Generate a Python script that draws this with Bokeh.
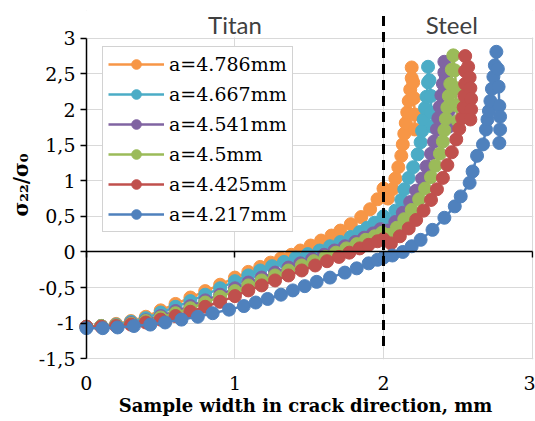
from bokeh.plotting import figure
from bokeh.models import (Range1d, FixedTicker, LinearAxis, CustomJSTickFormatter,
                          Legend, LegendItem, BoxAnnotation, Label)
from bokeh.embed import file_html
from bokeh.resources import INLINE

# ---------------- data ----------------
labels = ["a=4.786mm", "a=4.667mm", "a=4.541mm", "a=4.5mm", "a=4.425mm", "a=4.217mm"]
colors = ["#F79646", "#4BACC6", "#8064A2", "#9BBB59", "#C0504D", "#4F81BD"]

x_4786 = [0, 0.1, 0.2, 0.3, 0.4, 0.5, 0.6, 0.7, 0.8, 0.9, 1.0,
          1.09, 1.17, 1.24, 1.31, 1.38, 1.44, 1.51, 1.58, 1.65, 1.71, 1.78, 1.85, 1.91, 1.96,
          2.0, 2.03, 2.06, 2.08, 2.10, 2.12, 2.13, 2.14, 2.15, 2.16, 2.17, 2.18, 2.19, 2.19,
          2.20, 2.205, 2.21, 2.21]
y_4786 = [-1.05, -1.04, -1.01, -0.97, -0.91, -0.82, -0.73, -0.64, -0.55, -0.46, -0.36,
          -0.28, -0.21, -0.15, -0.09, -0.04, 0.02, 0.09, 0.16, 0.23, 0.30, 0.39, 0.49, 0.60, 0.74,
          0.89, 0.75, 0.88, 1.03, 1.19, 1.35, 1.51, 1.66, 1.81, 1.96, 2.12, 2.28, 2.44, 2.59,
          2.38, 2.16, 1.93, 1.72]

x_4667 = [0, 0.1, 0.2, 0.3, 0.4, 0.5, 0.6, 0.7, 0.8, 0.9, 1.0,
          1.09, 1.17, 1.25, 1.33, 1.41, 1.49, 1.57, 1.64, 1.71, 1.78, 1.84, 1.89, 1.94,
          2.0, 2.04, 2.08, 2.12, 2.14, 2.17, 2.20, 2.23, 2.25, 2.26, 2.27, 2.28, 2.29, 2.30, 2.30,
          2.31, 2.32, 2.32, 2.33]
y_4667 = [-1.05, -1.04, -1.02, -0.98, -0.93, -0.85, -0.77, -0.69, -0.60, -0.51, -0.41,
          -0.33, -0.26, -0.20, -0.14, -0.08, -0.03, 0.02, 0.08, 0.14, 0.21, 0.28, 0.34, 0.41,
          0.50, 0.42, 0.58, 0.73, 0.88, 1.04, 1.19, 1.37, 1.54, 1.70, 1.86, 2.02, 2.18, 2.38, 2.60,
          2.41, 2.19, 1.96, 1.76]

x_4541 = [0, 0.1, 0.2, 0.3, 0.4, 0.5, 0.6, 0.7, 0.8, 0.9, 1.0,
          1.09, 1.18, 1.27, 1.36, 1.44, 1.52, 1.60, 1.67, 1.74, 1.81, 1.87, 1.93, 1.98,
          2.03, 2.08, 2.13, 2.18, 2.22, 2.26, 2.29, 2.32, 2.34, 2.36, 2.37, 2.38, 2.39, 2.40, 2.41, 2.41,
          2.42, 2.43, 2.44, 2.44]
y_4541 = [-1.05, -1.04, -1.03, -1.00, -0.96, -0.90, -0.83, -0.76, -0.68, -0.60, -0.51,
          -0.43, -0.36, -0.29, -0.22, -0.16, -0.10, -0.04, 0.02, 0.08, 0.14, 0.20, 0.26, 0.32,
          0.30, 0.42, 0.55, 0.70, 0.86, 1.03, 1.20, 1.38, 1.55, 1.72, 1.88, 2.04, 2.20, 2.36, 2.52, 2.67,
          2.46, 2.22, 1.98, 1.76]

x_4500 = [0, 0.1, 0.2, 0.3, 0.4, 0.5, 0.6, 0.7, 0.8, 0.9, 1.0,
          1.09, 1.18, 1.27, 1.36, 1.45, 1.53, 1.61, 1.68, 1.75, 1.82, 1.88, 1.94, 1.99,
          2.04, 2.09, 2.14, 2.19, 2.24, 2.28, 2.32, 2.35, 2.38, 2.40, 2.41, 2.42, 2.43, 2.44, 2.45, 2.46, 2.47,
          2.48, 2.49, 2.49, 2.50]
y_4500 = [-1.05, -1.04, -1.03, -1.01, -0.97, -0.92, -0.86, -0.79, -0.71, -0.63, -0.55,
          -0.47, -0.40, -0.33, -0.26, -0.19, -0.13, -0.07, -0.01, 0.05, 0.11, 0.17, 0.22, 0.27,
          0.24, 0.34, 0.46, 0.59, 0.74, 0.89, 1.05, 1.21, 1.38, 1.55, 1.71, 1.87, 2.03, 2.19, 2.36, 2.56, 2.76,
          2.55, 2.30, 2.06, 1.84]

x_4425 = [0, 0.1, 0.2, 0.3, 0.4, 0.5, 0.6, 0.7, 0.8, 0.9, 1.0,
          1.09, 1.18, 1.27, 1.36, 1.45, 1.54, 1.62, 1.70, 1.77, 1.84, 1.90, 1.96, 2.0,
          2.05, 2.11, 2.17, 2.22, 2.27, 2.32, 2.36, 2.40, 2.43, 2.46, 2.49, 2.51, 2.53, 2.54, 2.545, 2.55, 2.55, 2.55,
          2.57, 2.58, 2.585, 2.59, 2.59, 2.585]
y_4425 = [-1.05, -1.05, -1.04, -1.02, -0.99, -0.95, -0.90, -0.84, -0.77, -0.70, -0.62,
          -0.54, -0.47, -0.40, -0.33, -0.26, -0.19, -0.13, -0.07, -0.01, 0.05, 0.10, 0.15, 0.18,
          0.12, 0.22, 0.33, 0.45, 0.58, 0.73, 0.88, 1.04, 1.22, 1.40, 1.58, 1.73, 1.88, 2.03, 2.19, 2.36, 2.54, 2.75,
          2.60, 2.45, 2.30, 2.15, 2.00, 1.86]

x_4217 = [0, 0.11, 0.21, 0.32, 0.43, 0.53, 0.64, 0.75, 0.85, 0.96, 1.06,
          1.14, 1.22, 1.31, 1.39, 1.47, 1.55, 1.64, 1.74, 1.82, 1.90, 1.96, 2.0,
          2.06, 2.13, 2.19, 2.25, 2.33, 2.41, 2.48, 2.52, 2.58, 2.60, 2.63, 2.67, 2.69, 2.70, 2.71, 2.72,
          2.73, 2.74, 2.75, 2.76,
          2.77, 2.775, 2.78, 2.785, 2.785, 2.78]
y_4217 = [-1.07, -1.07, -1.06, -1.04, -1.02, -0.99, -0.95, -0.91, -0.86, -0.81, -0.76,
          -0.71, -0.66, -0.60, -0.54, -0.48, -0.42, -0.36, -0.29, -0.23, -0.16, -0.11, -0.08,
          -0.05, 0.00, 0.08, 0.17, 0.31, 0.48, 0.64, 0.78, 0.97, 1.13, 1.35, 1.51, 1.72, 1.86, 1.98, 2.12,
          2.29, 2.46, 2.62, 2.81,
          2.57, 2.32, 2.05, 1.90, 1.72, 1.53]

series_x = [x_4786, x_4667, x_4541, x_4500, x_4425, x_4217]
series_y = [y_4786, y_4667, y_4541, y_4500, y_4425, y_4217]

x_ticks = [0, 1, 2, 3]
y_ticks = [-1.5, -1, -0.5, 0, 0.5, 1, 1.5, 2, 2.5, 3]
interface_x = 2.0          # titan / steel boundary
regions = ["Titan", "Steel"]

# ---------------- figure ----------------
X_LO, X_HI = -0.06, 3.01
Y_LO, Y_HI = -1.51, 3.39
SERIF = "DejaVu Serif"

p = figure(width=535, height=421, output_backend="svg", toolbar_location=None,
           x_range=Range1d(X_LO, X_HI), y_range=Range1d(Y_LO, Y_HI),
           min_border_left=77, min_border_right=2, min_border_top=10, min_border_bottom=62)
p.outline_line_color = None
p.background_fill_color = "white"
p.border_fill_color = "white"

# grid
p.xgrid.ticker = FixedTicker(ticks=x_ticks)
p.ygrid.ticker = FixedTicker(ticks=y_ticks)
for g in (p.xgrid, p.ygrid):
    g.grid_line_color = "#d9d9d9"
    g.grid_line_width = 1

# white masks so the grid stays inside the 0..3 x -1.5..3 plot area
p.add_layout(BoxAnnotation(right=0, fill_color="white", fill_alpha=1,
                           line_color=None, level="underlay"))
p.add_layout(BoxAnnotation(bottom=3.012, fill_color="white", fill_alpha=1,
                           line_color=None, level="underlay"))

fmt = CustomJSTickFormatter(code="return tick.toString().replace('.', ',')")
blank = CustomJSTickFormatter(code="return ''")

# y axis: labels at the left of the plot area
ya = p.yaxis[0]
ya.ticker = FixedTicker(ticks=y_ticks)
ya.formatter = fmt
ya.axis_line_color = None
ya.major_tick_line_color = None
ya.major_tick_out = 0
ya.major_tick_in = 0
ya.minor_tick_line_color = None
ya.major_label_text_font = SERIF
ya.major_label_text_font_size = "19px"
ya.major_label_text_color = "black"
ya.major_label_standoff = 2
ya.axis_label = "σ₂₂/σ₀"
ya.axis_label_text_font = SERIF
ya.axis_label_text_font_style = "bold"
ya.axis_label_text_font_size = "20px"
ya.axis_label_text_color = "black"
ya.axis_label_standoff = 3

# y axis line + ticks at x = 0
y0 = LinearAxis(fixed_location=0, bounds=(-1.5, 3), ticker=FixedTicker(ticks=y_ticks),
                formatter=blank, major_label_standoff=0,
                major_tick_out=6, major_tick_in=0, minor_tick_line_color=None,
                axis_line_color="black", axis_line_width=1.5,
                major_tick_line_color="black", major_tick_line_width=1.5)
p.add_layout(y0, "left")

# x axis: labels only at the bottom
xa = p.xaxis[0]
xa.ticker = FixedTicker(ticks=x_ticks)
xa.axis_line_color = None
xa.major_tick_line_color = None
xa.major_tick_out = 0
xa.major_tick_in = 0
xa.minor_tick_line_color = None
xa.major_label_text_font = SERIF
xa.major_label_text_font_size = "19px"
xa.major_label_text_color = "black"
xa.major_label_standoff = 16
xa.axis_label = "Sample width in crack direction, mm"
xa.axis_label_text_font = SERIF
xa.axis_label_text_font_style = "bold"
xa.axis_label_text_font_size = "18px"
xa.axis_label_text_color = "black"
xa.axis_label_standoff = 2

# x axis line crossing at y = 0
x0 = LinearAxis(fixed_location=0, bounds=(0, 3), ticker=FixedTicker(ticks=x_ticks),
                formatter=blank, major_label_standoff=0,
                major_tick_in=6, major_tick_out=0, minor_tick_line_color=None,
                axis_line_color="black", axis_line_width=1.5,
                major_tick_line_color="black", major_tick_line_width=1.5)
p.add_layout(x0, "above")

# series
items = []
for lab, col, xs, ys in zip(labels, colors, series_x, series_y):
    r_line = p.line(xs, ys, line_color=col, line_width=2.5)
    r_pts = p.scatter(xs, ys, marker="circle", size=13, fill_color=col, line_color=col)
    items.append(LegendItem(label=lab, renderers=[r_line, r_pts]))

# titan / steel boundary
p.segment(x0=[interface_x], y0=[-1.32], x1=[interface_x], y1=[Y_HI],
          line_color="black", line_width=3, line_dash="10 6")

# region names
p.add_layout(Label(x=(0 + interface_x) / 2, y=3.2, text=regions[0], text_align="center",
                   text_baseline="middle", text_font="Lato", text_font_size="24px",
                   text_color="#404040"))
p.add_layout(Label(x=(interface_x + 3) / 2 - 0.04, y=3.2, text=regions[1], text_align="center",
                   text_baseline="middle", text_font="Lato", text_font_size="24px",
                   text_color="#404040"))

legend = Legend(items=items, location=(25, 127),
                label_text_font=SERIF, label_text_font_size="19px", label_text_color="black",
                glyph_width=56, glyph_height=24, label_height=24,
                label_standoff=5, spacing=6, padding=5, margin=0,
                border_line_color="#a6a6a6", border_line_width=1,
                background_fill_color="white", background_fill_alpha=1)
p.add_layout(legend)

open("out.html", "w").write(file_html(p, INLINE))
